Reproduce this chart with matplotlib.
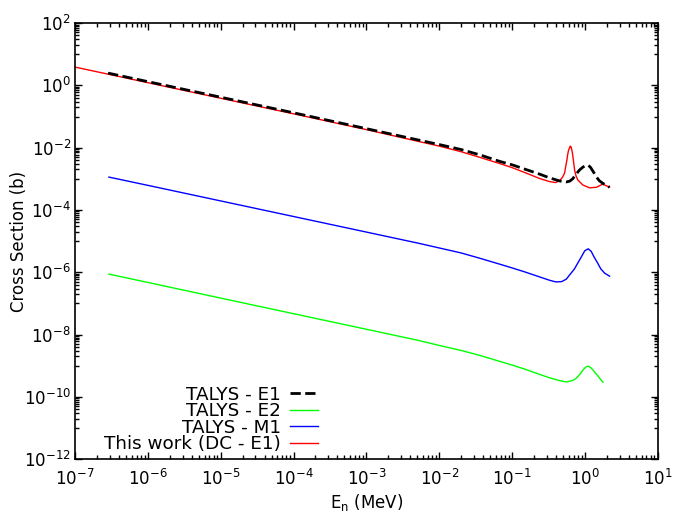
import matplotlib
matplotlib.use("Agg")
import matplotlib.pyplot as plt
from matplotlib.ticker import NullFormatter
import numpy as np

# values, cross sections stored as log10(sigma / b)

# TALYS - E1
e_e1 = [2.84e-7, 1e-6, 1e-5, 1e-4, 1e-3, 1e-2, 0.02, 0.036, 0.0676, 0.1, 0.15, 0.239, 0.328, 0.45,
        0.556, 0.62, 0.68, 0.74, 0.84, 0.94, 1.02, 1.11, 1.2, 1.34, 1.45, 1.58, 1.87, 2.18]
log_s_e1 = [0.394, 0.12, -0.38, -0.88, -1.39, -1.90, -2.06, -2.23, -2.44, -2.55, -2.69, -2.85, -2.97, -3.07,
            -3.10, -3.074, -3.0, -2.881, -2.72, -2.624, -2.575, -2.56, -2.64, -2.817, -2.95, -3.064, -3.186, -3.27]

# TALYS - E2
e_e2 = [2.92e-7, 1e-6, 1e-5, 1e-4, 1e-3, 5e-3, 1e-2, 0.02, 0.036, 0.0676, 0.1, 0.15, 0.239, 0.33, 0.45, 0.55,
        0.62, 0.70, 0.762, 0.85, 0.94, 1.03, 1.11, 1.2, 1.29, 1.4, 1.51, 1.64, 1.77]
log_s_e2 = [-6.06, -6.327, -6.83, -7.33, -7.83, -8.18, -8.35, -8.51, -8.67, -8.86, -8.98, -9.11, -9.28, -9.39, -9.48,
            -9.52, -9.50, -9.46, -9.40, -9.28, -9.14, -9.04, -9.015, -9.06, -9.14, -9.24, -9.33, -9.44, -9.53]

# TALYS - M1
e_m1 = [2.92e-7, 1e-6, 1e-5, 1e-4, 1e-3, 5e-3, 1e-2, 0.02, 0.036, 0.0676, 0.1, 0.15, 0.239, 0.33, 0.40, 0.48,
        0.556, 0.62, 0.72, 0.80, 0.89, 0.995, 1.11, 1.22, 1.34, 1.5, 1.65, 1.87, 2.18]
log_s_m1 = [-2.945, -3.21, -3.71, -4.21, -4.71, -5.06, -5.22, -5.38, -5.55, -5.74, -5.86, -5.99, -6.15, -6.26, -6.31,
            -6.30, -6.22, -6.08, -5.89, -5.70, -5.514, -5.31, -5.247, -5.33, -5.514, -5.71, -5.89, -6.03, -6.125]

# This work (DC - E1)
e_dc = [1e-7, 1e-6, 1e-5, 1e-4, 1e-3, 1e-2, 0.02, 0.036, 0.0676, 0.1, 0.15, 0.239, 0.328, 0.396, 0.45,
        0.494, 0.526, 0.543, 0.566, 0.578, 0.597, 0.63, 0.647, 0.671, 0.70, 0.722, 0.757,
        0.80, 0.94, 1.16, 1.45, 1.75, 2.18]
log_s_dc = [0.587, 0.087, -0.413, -0.913, -1.42, -1.95, -2.13, -2.31, -2.51, -2.64, -2.80, -2.99, -3.09, -3.12, -3.06,
            -2.945, -2.817, -2.624, -2.40, -2.239, -2.078, -1.95, -1.982, -2.143, -2.464, -2.72, -2.913,
            -3.04, -3.20, -3.29, -3.27, -3.17, -3.27]

plt.rcParams["font.family"] = "DejaVu Sans"
plt.rcParams["mathtext.default"] = "regular"

fig = plt.figure(figsize=(6.76, 5.13), dpi=100)
ax = fig.add_axes([0.111, 0.105, 0.862, 0.850])

ax.plot(e_e1, np.power(10.0, log_s_e1), color="black", linestyle="--", linewidth=2, label="TALYS - E1", zorder=4)
ax.plot(e_e2, np.power(10.0, log_s_e2), color="#00ff00", linewidth=1, label="TALYS - E2", zorder=3)
ax.plot(e_m1, np.power(10.0, log_s_m1), color="#0000ff", linewidth=1, label="TALYS - M1", zorder=3)
ax.plot(e_dc, np.power(10.0, log_s_dc), color="#ff0000", linewidth=1, label="This work (DC - E1)", zorder=2)

ax.set_xscale("log")
ax.set_yscale("log")
ax.set_xlim(1e-7, 1e1)
ax.set_ylim(1e-12, 1e2)

ax.set_xticks([10.0**k for k in range(-7, 2)])
ax.set_xticks([m * 10.0**k for k in range(-7, 1) for m in range(2, 10)], minor=True)
ax.set_yticks([10.0**k for k in range(-12, 3, 2)])
ax.set_yticks([m * 10.0**k for k in range(-11, 2, 2) for m in range(1, 10)], minor=True)
ax.xaxis.set_minor_formatter(NullFormatter())
ax.yaxis.set_minor_formatter(NullFormatter())

ax.tick_params(which="both", direction="in", top=True, right=True, labelsize=12)
ax.tick_params(which="major", length=5, width=1)
ax.tick_params(which="minor", length=3, width=1)
ax.tick_params(axis="x", which="major", pad=7)
ax.tick_params(axis="y", which="major", pad=3)
for s in ax.spines.values():
    s.set_linewidth(1.2)

ax.set_xlabel("E$_n$ (MeV)", fontsize=12, labelpad=2)
ax.set_ylabel("Cross Section (b)", fontsize=12, labelpad=-3)

ax.legend(loc="lower right", bbox_to_anchor=(0.445, -0.024), frameon=False, markerfirst=False,
          fontsize=13.2, handlelength=1.5, handletextpad=0.5, labelspacing=-0.08)

fig.savefig("out.png", dpi=100)
